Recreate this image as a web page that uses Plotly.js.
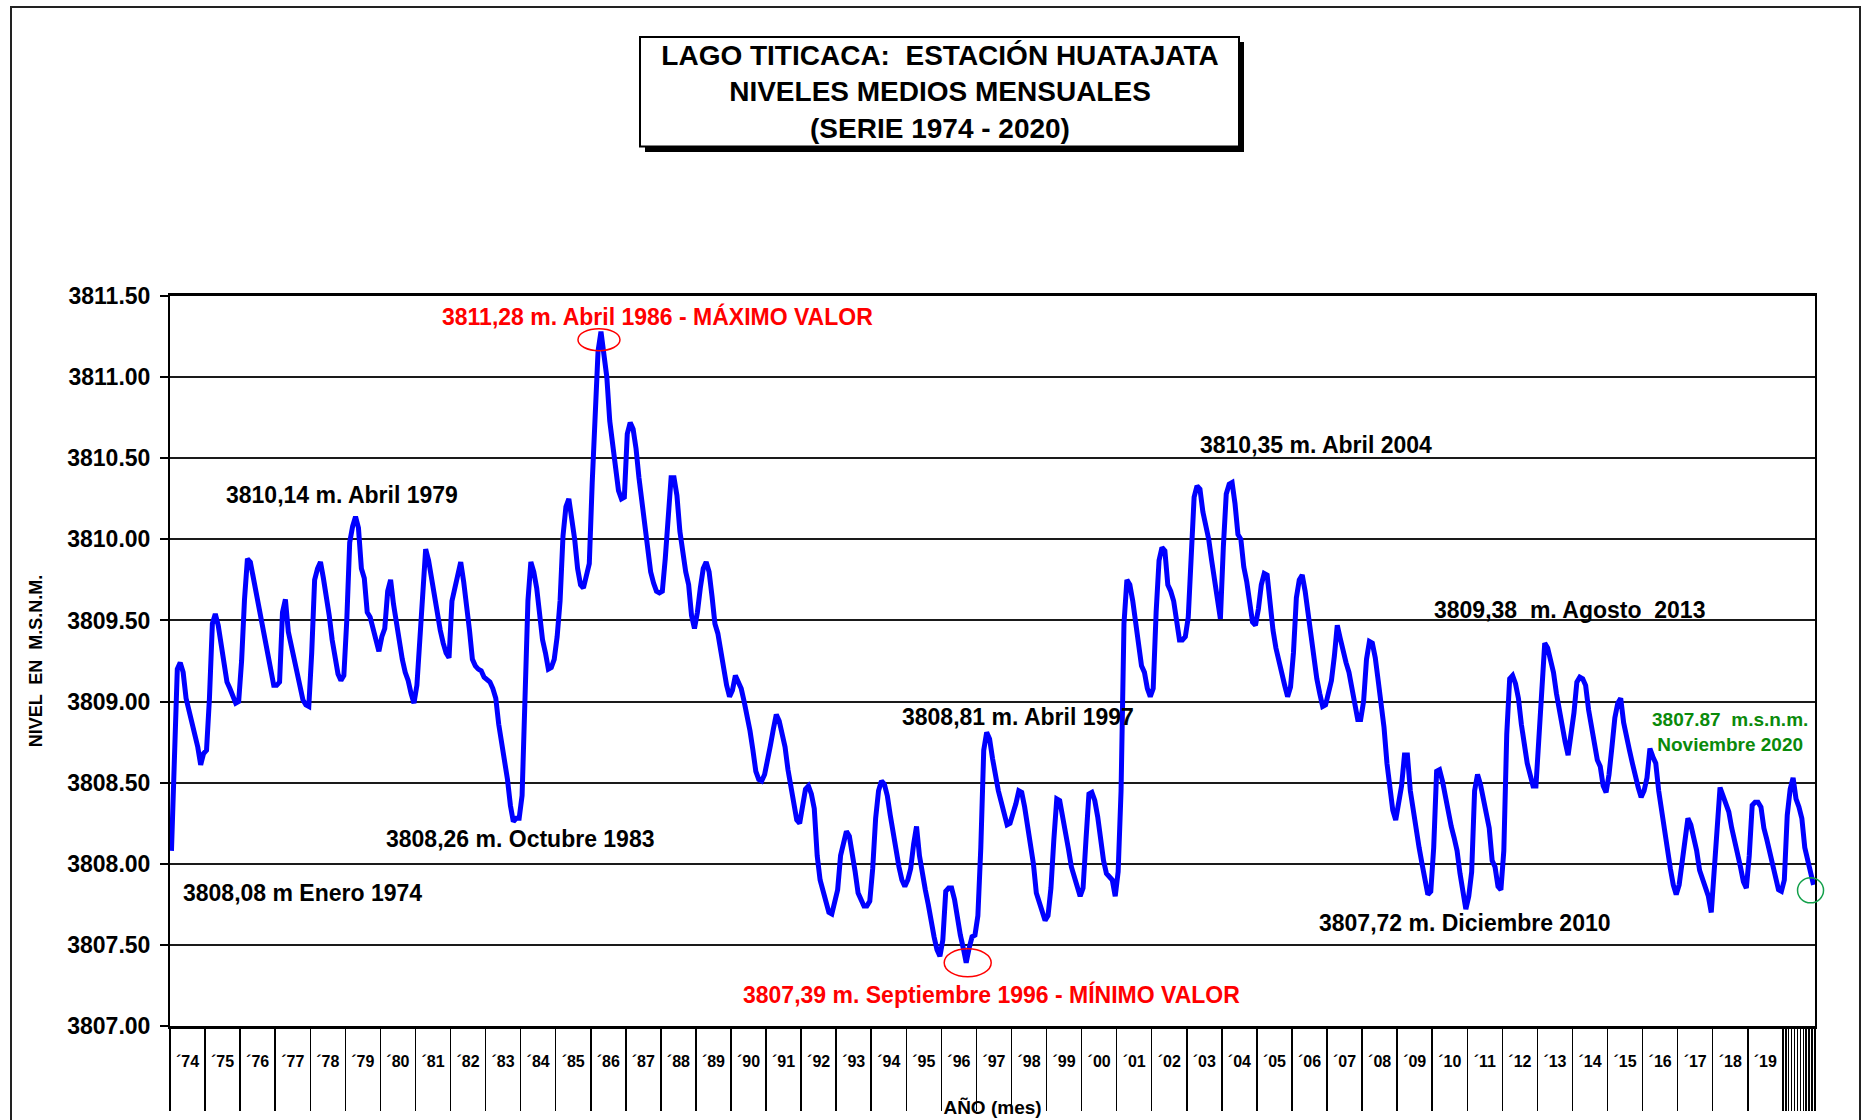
<!DOCTYPE html>
<html>
<head>
<meta charset="utf-8">
<script src="https://cdn.plot.ly/plotly-3.0.1.min.js"></script>
<style>
  html, body { margin: 0; padding: 0; background: #ffffff; }
  #chart { width: 1868px; height: 1120px; }
</style>
</head>
<body>
<div id="chart"></div>
<script>
// ---- DATA: monthly mean level (m.s.n.m.), Huatajata station, Jan 1974 - Nov 2020 ----
const lvl1970s = [
  3808.08, 3808.65, 3809.20, 3809.24, 3809.18, 3809.02, 3808.95, 3808.88, 3808.80, 3808.72, 3808.61, 3808.68, // 1974
  3808.70, 3809.02, 3809.48, 3809.54, 3809.47, 3809.35, 3809.20, 3809.12, 3809.08, 3809.03, 3808.99, 3809.00, // 1975
  3809.25, 3809.63, 3809.88, 3809.86, 3809.76, 3809.69, 3809.56, 3809.47, 3809.36, 3809.28, 3809.17, 3809.10, // 1976
  3809.10, 3809.12, 3809.55, 3809.63, 3809.43, 3809.34, 3809.26, 3809.18, 3809.08, 3809.01, 3808.98, 3808.97, // 1977
  3809.30, 3809.75, 3809.82, 3809.86, 3809.76, 3809.65, 3809.53, 3809.38, 3809.26, 3809.17, 3809.13, 3809.16, // 1978
  3809.50, 3809.98, 3810.08, 3810.14, 3810.07, 3809.82, 3809.76, 3809.55, 3809.52, 3809.45, 3809.38, 3809.31  // 1979
];
const lvl1980s = [
  3809.40, 3809.45, 3809.68, 3809.75, 3809.60, 3809.48, 3809.36, 3809.26, 3809.18, 3809.13, 3809.05, 3808.99, // 1980
  3809.10, 3809.38, 3809.76, 3809.94, 3809.87, 3809.76, 3809.62, 3809.52, 3809.44, 3809.36, 3809.30, 3809.27, // 1981
  3809.62, 3809.70, 3809.80, 3809.86, 3809.74, 3809.55, 3809.44, 3809.26, 3809.22, 3809.20, 3809.19, 3809.15, // 1982
  3809.13, 3809.12, 3809.08, 3809.02, 3808.86, 3808.75, 3808.66, 3808.52, 3808.36, 3808.26, 3808.28, 3808.28, // 1983
  3808.42, 3809.05, 3809.62, 3809.86, 3809.80, 3809.70, 3809.52, 3809.38, 3809.30, 3809.20, 3809.21, 3809.26, // 1984
  3809.40, 3809.62, 3810.02, 3810.20, 3810.25, 3810.14, 3810.00, 3809.82, 3809.72, 3809.70, 3809.79, 3809.85, // 1985
  3810.35, 3810.85, 3811.16, 3811.28, 3811.15, 3811.00, 3810.73, 3810.60, 3810.42, 3810.30, 3810.25, 3810.26, // 1986
  3810.65, 3810.72, 3810.68, 3810.56, 3810.38, 3810.22, 3810.06, 3809.90, 3809.80, 3809.73, 3809.68, 3809.67, // 1987
  3809.68, 3809.88, 3810.17, 3810.38, 3810.38, 3810.27, 3810.05, 3809.90, 3809.80, 3809.72, 3809.53, 3809.45, // 1988
  3809.55, 3809.70, 3809.82, 3809.86, 3809.80, 3809.65, 3809.48, 3809.42, 3809.30, 3809.18, 3809.10, 3809.03  // 1989
];
const lvl1990s = [
  3809.07, 3809.16, 3809.12, 3809.08, 3809.00, 3808.92, 3808.82, 3808.70, 3808.57, 3808.52, 3808.51, 3808.55, // 1990
  3808.66, 3808.73, 3808.83, 3808.92, 3808.88, 3808.80, 3808.72, 3808.58, 3808.46, 3808.36, 3808.27, 3808.25, // 1991
  3808.38, 3808.46, 3808.48, 3808.43, 3808.34, 3808.05, 3807.90, 3807.84, 3807.78, 3807.70, 3807.69, 3807.76, // 1992
  3807.84, 3808.05, 3808.14, 3808.20, 3808.17, 3808.07, 3807.95, 3807.82, 3807.77, 3807.74, 3807.74, 3807.77, // 1993
  3807.97, 3808.28, 3808.45, 3808.51, 3808.49, 3808.42, 3808.30, 3808.19, 3808.06, 3807.98, 3807.90, 3807.86, // 1994
  3807.90, 3807.97, 3808.12, 3808.23, 3808.05, 3807.93, 3807.84, 3807.75, 3807.63, 3807.55, 3807.47, 3807.43, // 1995
  3807.53, 3807.83, 3807.85, 3807.85, 3807.78, 3807.66, 3807.56, 3807.48, 3807.39, 3807.48, 3807.55, 3807.56, // 1996
  3807.68, 3808.10, 3808.70, 3808.81, 3808.77, 3808.65, 3808.53, 3808.45, 3808.38, 3808.31, 3808.24, 3808.25, // 1997
  3808.30, 3808.37, 3808.45, 3808.44, 3808.35, 3808.24, 3808.12, 3808.00, 3807.82, 3807.76, 3807.69, 3807.65, // 1998
  3807.68, 3807.85, 3808.15, 3808.40, 3808.39, 3808.30, 3808.20, 3808.09, 3807.98, 3807.93, 3807.86, 3807.80  // 1999
];
const lvl2000s = [
  3807.85, 3808.15, 3808.43, 3808.44, 3808.39, 3808.29, 3808.15, 3808.02, 3807.94, 3807.92, 3807.90, 3807.80, // 2000
  3807.95, 3808.45, 3809.48, 3809.75, 3809.72, 3809.62, 3809.50, 3809.33, 3809.22, 3809.18, 3809.08, 3809.03, // 2001
  3809.08, 3809.55, 3809.87, 3809.95, 3809.93, 3809.72, 3809.68, 3809.62, 3809.50, 3809.38, 3809.38, 3809.40, // 2002
  3809.52, 3809.90, 3810.26, 3810.33, 3810.31, 3810.17, 3810.10, 3810.00, 3809.87, 3809.75, 3809.64, 3809.51, // 2003
  3809.95, 3810.28, 3810.34, 3810.35, 3810.22, 3810.03, 3810.00, 3809.83, 3809.74, 3809.62, 3809.49, 3809.47, // 2004
  3809.57, 3809.72, 3809.79, 3809.78, 3809.60, 3809.44, 3809.33, 3809.25, 3809.15, 3809.10, 3809.03, 3809.09, // 2005
  3809.30, 3809.64, 3809.75, 3809.78, 3809.68, 3809.53, 3809.40, 3809.28, 3809.14, 3809.05, 3808.97, 3808.98, // 2006
  3809.05, 3809.13, 3809.28, 3809.47, 3809.39, 3809.30, 3809.24, 3809.18, 3809.08, 3808.97, 3808.89, 3808.89, // 2007
  3809.00, 3809.26, 3809.37, 3809.36, 3809.27, 3809.13, 3809.00, 3808.84, 3808.62, 3808.45, 3808.33, 3808.27, // 2008
  3808.38, 3808.48, 3808.67, 3808.67, 3808.45, 3808.32, 3808.22, 3808.10, 3808.00, 3807.88, 3807.81, 3807.83  // 2009
];
const lvl2010s = [
  3808.10, 3808.57, 3808.58, 3808.51, 3808.41, 3808.33, 3808.23, 3808.16, 3808.08, 3807.94, 3807.80, 3807.72, // 2010
  3807.80, 3807.95, 3808.45, 3808.55, 3808.49, 3808.41, 3808.30, 3808.22, 3808.02, 3807.98, 3807.86, 3807.84, // 2011
  3808.08, 3808.80, 3809.14, 3809.16, 3809.11, 3809.02, 3808.86, 3808.72, 3808.62, 3808.55, 3808.48, 3808.48, // 2012
  3808.80, 3809.05, 3809.36, 3809.33, 3809.26, 3809.18, 3809.05, 3808.95, 3808.82, 3808.75, 3808.67, 3808.78, // 2013
  3808.93, 3809.12, 3809.15, 3809.14, 3809.10, 3808.95, 3808.83, 3808.72, 3808.64, 3808.60, 3808.48, 3808.44, // 2014
  3808.55, 3808.72, 3808.90, 3808.99, 3809.02, 3808.87, 3808.77, 3808.70, 3808.62, 3808.53, 3808.47, 3808.41, // 2015
  3808.45, 3808.53, 3808.71, 3808.66, 3808.62, 3808.45, 3808.33, 3808.16, 3808.07, 3807.97, 3807.87, 3807.81, // 2016
  3807.87, 3808.02, 3808.18, 3808.28, 3808.24, 3808.17, 3808.08, 3807.96, 3807.91, 3807.87, 3807.80, 3807.70, // 2017
  3807.95, 3808.28, 3808.47, 3808.42, 3808.37, 3808.32, 3808.22, 3808.15, 3808.07, 3807.98, 3807.89, 3807.85, // 2018
  3808.05, 3808.36, 3808.38, 3808.38, 3808.35, 3808.22, 3808.15, 3808.08, 3807.98, 3807.91, 3807.84, 3807.83  // 2019
];
const lvl2020 = [3807.90, 3808.30, 3808.46, 3808.53, 3808.40, 3808.35, 3808.28, 3808.10, 3808.03, 3807.95, 3807.87];

const yearLabels = ['´74','´75','´76','´77','´78','´79','´80','´81','´82','´83','´84','´85','´86','´87','´88','´89',
  '´90','´91','´92','´93','´94','´95','´96','´97','´98','´99','´00','´01','´02','´03','´04','´05','´06','´07','´08','´09',
  '´10','´11','´12','´13','´14','´15','´16','´17','´18','´19'];
const monthNames = ['Ene','Feb','Mar','Abr','May','Jun','Jul','Ago','Sep','Oct','Nov','Dic'];
const firstYear = 1974;

// ---- derived ----
const levels = [].concat(lvl1970s, lvl1980s, lvl1990s, lvl2000s, lvl2010s, lvl2020);
const idx = levels.map((_, i) => i);
const hoverText = levels.map((v, i) => monthNames[i % 12] + ' ' + (firstYear + Math.floor(i / 12)));
const nFullYears = yearLabels.length;                 // 46 full years
const lastIdx = levels.length - 1;
const xRange = [-0.5, lastIdx + 0.5];
const yRange = [3807, 3811.5];
const yearTicks = [];
for (let k = 0; k <= nFullYears; k++) yearTicks.push(12 * k - 0.5);
for (let m = 12 * nFullYears + 0.5; m <= lastIdx + 0.5; m += 1) yearTicks.push(m);
const yearCenters = yearLabels.map((_, k) => 12 * k + 5.5);

let iMax = 0, iMin = 0;
levels.forEach((v, i) => { if (v > levels[iMax]) iMax = i; if (v < levels[iMin]) iMin = i; });
const xFrac = i => (i - xRange[0]) / (xRange[1] - xRange[0]);
const yFrac = v => (v - yRange[0]) / (yRange[1] - yRange[0]);

// ---- layout geometry ----
const W = 1868, H = 1120;
const M = { l: 170, r: 53, t: 296, b: 94 };
const PW = W - M.l - M.r, PH = H - M.t - M.b;
const px = x => (x - M.l) / PW;          // pixel -> paper x
const py = y => (M.t + PH - y) / PH;     // pixel -> paper y

const FONT = 'Liberation Sans, Arial, Helvetica, sans-serif';

const noteSpecs = [
  { t: '3811,28 m. Abril 1986 - MÁXIMO VALOR', x: 440, y: 316, c: '#FF0000' },
  { t: '3810,14 m. Abril 1979', x: 224, y: 495, c: '#000000' },
  { t: '3808,26 m. Octubre 1983', x: 384, y: 839, c: '#000000' },
  { t: '3808,08 m Enero 1974', x: 181, y: 893, c: '#000000' },
  { t: '3808,81 m. Abril 1997', x: 900, y: 717, c: '#000000' },
  { t: '3807,39 m. Septiembre 1996 - MÍNIMO VALOR', x: 741, y: 994, c: '#FF0000' },
  { t: '3810,35 m. Abril 2004', x: 1198, y: 445, c: '#000000' },
  { t: '3809,38  m. Agosto  2013', x: 1432, y: 610, c: '#000000' },
  { t: '3807,72 m. Diciembre 2010', x: 1317, y: 923, c: '#000000' }
];
const annotations = noteSpecs.map(n => ({
  text: n.t, xref: 'paper', yref: 'paper', x: px(n.x), y: py(n.y),
  xanchor: 'left', yanchor: 'middle', showarrow: false,
  font: { family: FONT, size: 23, color: n.c, weight: 'bold' }
}));
annotations.push({
  text: '3807.87  m.s.n.m.<br>Noviembre 2020', xref: 'paper', yref: 'paper',
  x: px(1730), y: py(732), xanchor: 'center', yanchor: 'middle', align: 'center', showarrow: false,
  font: { family: FONT, size: 19, color: '#0A8A0A', weight: 'bold' }
});

const shapes = [
  // outer frame
  { type: 'rect', xref: 'paper', yref: 'paper', x0: px(11), x1: px(1860), y0: py(1135), y1: py(7),
    line: { color: '#222', width: 2 }, fillcolor: 'rgba(0,0,0,0)', layer: 'below' },
  // title box shadow + box
  { type: 'rect', xref: 'paper', yref: 'paper', x0: px(645), x1: px(1244), y0: py(152), y1: py(42),
    line: { width: 0 }, fillcolor: '#000000', layer: 'below' },
  { type: 'rect', xref: 'paper', yref: 'paper', x0: px(640), x1: px(1239), y0: py(146.5), y1: py(37),
    line: { color: '#000', width: 2 }, fillcolor: '#ffffff', layer: 'below' },
  // max / min / last-value markers (anchored on the data points)
  { type: 'circle', xref: 'x', yref: 'y', xsizemode: 'pixel', ysizemode: 'pixel',
    xanchor: iMax, yanchor: levels[iMax], x0: -23, x1: 19, y0: -19, y1: 3,
    line: { color: '#FF0000', width: 1.5 } },
  { type: 'circle', xref: 'x', yref: 'y', xsizemode: 'pixel', ysizemode: 'pixel',
    xanchor: iMin, yanchor: levels[iMin], x0: -22, x1: 25, y0: -14, y1: 14,
    line: { color: '#FF0000', width: 1.5 } },
  { type: 'circle', xref: 'paper', yref: 'paper', xsizemode: 'pixel', ysizemode: 'pixel',
    xanchor: xFrac(lastIdx), yanchor: yFrac(levels[lastIdx]), x0: -16, x1: 10, y0: -18, y1: 7,
    line: { color: '#12A04A', width: 1.5 } }
];

const traces = [
  { type: 'scatter', mode: 'lines', x: idx, y: levels, text: hoverText,
    hovertemplate: '%{text}: %{y:.2f}<extra></extra>',
    line: { color: '#0000FF', width: 5 }, xaxis: 'x', yaxis: 'y', showlegend: false },
  { type: 'scatter', mode: 'markers', x: yearCenters, y: yearCenters.map(() => null),
    marker: { opacity: 0 }, hoverinfo: 'skip', xaxis: 'x2', yaxis: 'y', showlegend: false }
];

const layout = {
  width: W, height: H,
  margin: M,
  paper_bgcolor: '#ffffff', plot_bgcolor: '#ffffff',
  font: { family: FONT, color: '#000' },
  showlegend: false,
  title: {
    text: 'LAGO TITICACA:  ESTACIÓN HUATAJATA<br>NIVELES MEDIOS MENSUALES<br>(SERIE 1974 - 2020)',
    font: { family: FONT, size: 28, color: '#000', weight: 'bold' },
    xref: 'container', yref: 'container', x: 940 / W, xanchor: 'center',
    y: 1 - 65 / H, yanchor: 'middle'
  },
  xaxis: {
    range: xRange, tickmode: 'array', tickvals: yearTicks,
    showticklabels: false, ticks: 'outside', ticklen: 82, tickwidth: 1.5, tickcolor: '#000',
    showline: true, linewidth: 3, linecolor: '#000', mirror: true,
    showgrid: false, zeroline: false, fixedrange: true, automargin: false
  },
  xaxis2: {
    overlaying: 'x', anchor: 'y', side: 'bottom', range: xRange,
    tickmode: 'array', tickvals: yearCenters, ticktext: yearLabels,
    ticks: 'outside', ticklen: 21, tickcolor: 'rgba(0,0,0,0)',
    showline: false, showgrid: false, zeroline: false, fixedrange: true, automargin: false,
    tickfont: { family: FONT, size: 16, color: '#000', weight: 'bold' },
    title: { text: 'AÑO (mes)', standoff: 31, font: { family: FONT, size: 19, color: '#000', weight: 'bold' } }
  },
  yaxis: {
    range: yRange, tickmode: 'linear', tick0: 3807, dtick: 0.5, tickformat: '.2f',
    showgrid: true, gridcolor: '#1a1a1a', gridwidth: 2,
    ticks: 'outside', ticklen: 8, tickwidth: 2, tickcolor: '#000',
    showline: true, linewidth: 2, linecolor: '#000', mirror: true, zeroline: false,
    fixedrange: true, automargin: false, ticklabelstandoff: 5,
    tickfont: { family: FONT, size: 23, color: '#000', weight: 'bold' },
    title: { text: 'NIVEL  EN  M.S.N.M.', standoff: 20, font: { family: FONT, size: 18, color: '#000', weight: 'bold' } }
  },
  annotations: annotations,
  shapes: shapes
};

Plotly.newPlot('chart', traces, layout, { staticPlot: true, displayModeBar: false });
</script>
</body>
</html>
